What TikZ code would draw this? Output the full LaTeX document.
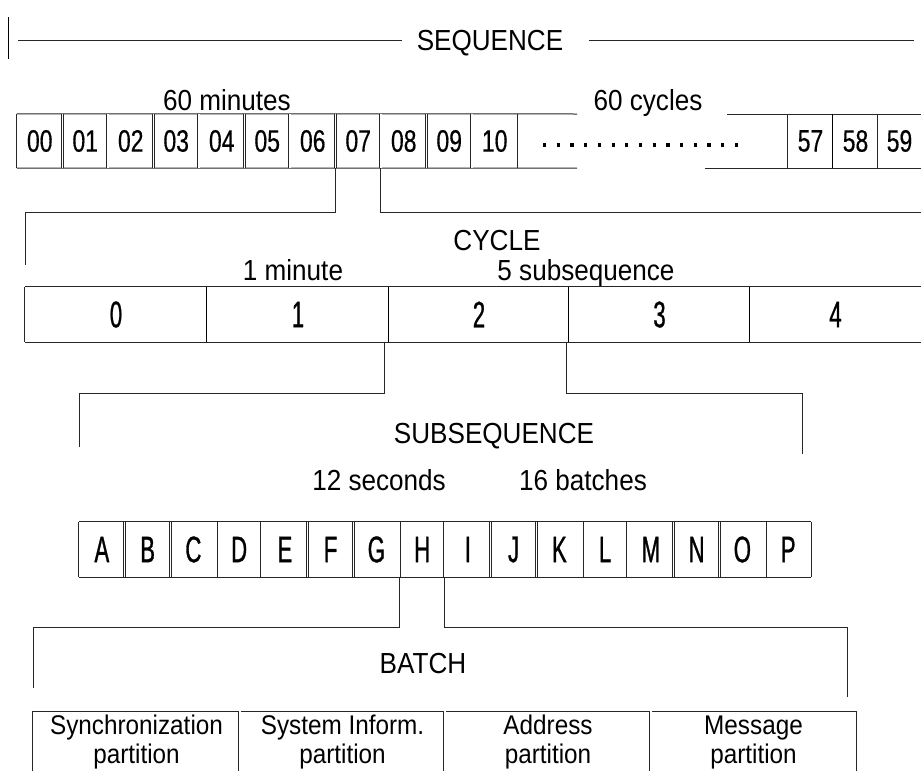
\documentclass[tikz,border=0pt]{standalone}
\usepackage{fontspec}
\setmainfont{Liberation Sans}
\newfontfamily\txtfont[FakeStretch=0.9]{Liberation Sans}
\newfontfamily\rowfont[FakeStretch=0.74,FakeBold=0.4]{Liberation Sans}
\newfontfamily\narfont[FakeStretch=0.6,FakeBold=0.8]{Liberation Sans}
\tikzset{
  ln/.style={line width=1pt, draw=black!85},
  dv/.style={line width=1.3pt, draw=black},
  dbl/.style={double=white, double distance=1.4pt, line width=0.8pt, draw=black!85},
  lbl/.style={font=\txtfont\fontsize{29}{32}\selectfont, inner sep=0pt, anchor=base},
  cellA/.style={minimum height=54pt, inner sep=0pt, font=\rowfont\fontsize{31}{33}\selectfont},
  cellB/.style={minimum height=55pt, inner sep=0pt, font=\narfont\fontsize{37}{39}\selectfont},
  part/.style={inner sep=0pt, align=center, text height=52pt, text depth=6pt,
    font=\txtfont\fontsize{27}{29}\selectfont}
}
\begin{document}
\begin{tikzpicture}[x=1pt,y=-1pt]
\useasboundingbox (0,0) rectangle (921,771);
% ---------------- SEQUENCE header
\node[lbl] (seq) at (490,50.4) {SEQUENCE};
\coordinate (seqL) at (18,40);
\coordinate (seqLe) at (402,40);
\coordinate (seqRs) at (589,40);
\coordinate (seqR) at (914,40);
\draw[ln] (seqL) -- (seqLe);
\draw[ln] (seqRs) -- (seqR);
\draw[line width=1pt] (8,17) -- (8,59);
\node[lbl] (min60) at (227,110) {60 minutes};
\node[lbl] (cyc60) at (648,110) {60 cycles};
% ---------------- row of minutes
\foreach \t [count=\i from 0] in {00,01,02,03,04,05,06,07,08,09,10}
  \node[cellA, minimum width=45.5pt] (m\t) at ({17+45.5*\i+22.75},141) {\t};
\node[cellA, minimum width=45pt] (m57) at (810.5,141) {57};
\node[cellA, minimum width=45pt] (m58) at (855.5,141) {58};
\node[cellA, minimum width=43pt] (m59) at (899.5,141) {59};
\coordinate (t1) at (577,114);
\coordinate (t2) at (727,114);
\coordinate (b1) at (577,168);
\coordinate (b2) at (705,168);
\coordinate (tE) at (921,114);
\coordinate (bE) at (921,168);
\draw[ln] (m00.north west) -- (t1);
\draw[ln] (m00.south west) -- (b1);
\draw[ln] (t2) -- (tE);
\draw[ln] (b2) -- (bE);
\draw[ln] (m00.north west) -- (m00.south west);
\foreach \t in {01,02,03,04,05,06,07,08,09,10}
  \draw[dbl] (m\t.north west) -- (m\t.south west);
\draw[ln] (m10.north east) -- (m10.south east);
\draw[ln] (m57.north west) -- (m57.south west);
\draw[dv] (m58.north west) -- (m58.south west);
\draw[ln] (m59.north west) -- (m59.south west);
\draw[line width=3.2pt, dash pattern=on 3.2pt off 10.5pt] (543,145) -- (739,145);
% ---------------- connectors to CYCLE
\coordinate (j1) at (0,212);
\coordinate (cL) at (25,265);
\coordinate (cR) at (921,212);
\draw[ln] (m07.south west) -- (m07.south west |- j1) -| (cL);
\draw[ln] (m08.south west) -- (m08.south west |- j1) -- (cR);
\node[lbl] (cycle) at (497,250) {CYCLE};
\node[lbl] (onemin) at (293,280) {1 minute};
\node[lbl] (fivesub) at (586,280) {5 subsequence};
% ---------------- CYCLE row
\node[cellB, minimum width=182pt] (c0) at (116,314.5) {0};
\node[cellB, minimum width=182pt] (c1) at (298,314.5) {1};
\node[cellB, minimum width=180pt] (c2) at (479,314.5) {2};
\node[cellB, minimum width=181pt] (c3) at (659.5,314.5) {3};
\node[cellB, minimum width=171pt] (c4) at (835.5,314.5) {4};
\draw[ln] (c0.north west) -- (c4.north east);
\draw[ln] (c0.south west) -- (c4.south east);
\draw[ln] (c0.north west) -- (c0.south west);
\foreach \t in {1,2,3,4}
  \draw[dv] (c\t.north west) -- (c\t.south west);
% ---------------- connectors to SUBSEQUENCE
\coordinate (j2) at (0,393);
\coordinate (sL) at (79,447);
\coordinate (sR) at (802,454);
\draw[ln] ([xshift=-4pt]c2.south west) -- ([xshift=-4pt]c2.south west |- j2) -| (sL);
\draw[ln] ([xshift=-2pt]c3.south west) -- ([xshift=-2pt]c3.south west |- j2) -| (sR);
\node[lbl] (subseq) at (494,443) {SUBSEQUENCE};
\node[lbl] (twelve) at (379,490) {12 seconds};
\node[lbl] (sixteen) at (583,490) {16 batches};
% ---------------- batches row
\foreach \t [count=\i from 0] in {A,B,C,D,E,F,G,H,I,J,K,L,M,N,O,P}
  \node[cellB, minimum width=45.75pt] (b\t) at ({79+45.75*\i+22.875},549.5) {\t};
\draw[ln] (bA.north west) -- (bP.north east);
\draw[ln] (bA.south west) -- (bP.south east);
\draw[ln] (bA.north west) -- (bA.south west);
\draw[ln] (bP.north east) -- (bP.south east);
\foreach \t in {B,C,D,E,F,G,H,I,J,K,L,M,N,O,P}
  \draw[dbl] (b\t.north west) -- (b\t.south west);
% ---------------- connectors to BATCH
\coordinate (j3) at (0,627);
\coordinate (pL) at (33,688);
\coordinate (pR) at (847,697);
\draw[ln] (bH.south west) -- (bH.south west |- j3) -| (pL);
\draw[ln] (bI.south west) -- (bI.south west |- j3) -| (pR);
\node[lbl] (batch) at (423,673) {BATCH};
% ---------------- partitions row
\node[part, minimum width=207pt] (p1) at (136.5,740) {Synchronization\\partition};
\node[part, minimum width=205pt] (p2) at (342.5,740) {System Inform.\\partition};
\node[part, minimum width=206pt] (p3) at (548,740) {Address\\partition};
\node[part, minimum width=205pt] (p4) at (753.5,740) {Message\\partition};
\coordinate (pTop) at (0,711);
\coordinate (pBot) at (0,771);
\draw[ln] (p1.west |- pTop) -- (p4.east |- pTop);
\draw[ln] (p1.west |- pTop) -- (p1.west |- pBot);
\draw[ln] (p4.east |- pTop) -- (p4.east |- pBot);
\foreach \t in {2,3,4}
  \draw[dbl] (p\t.west |- pTop) -- (p\t.west |- pBot);
\end{tikzpicture}
\end{document}
